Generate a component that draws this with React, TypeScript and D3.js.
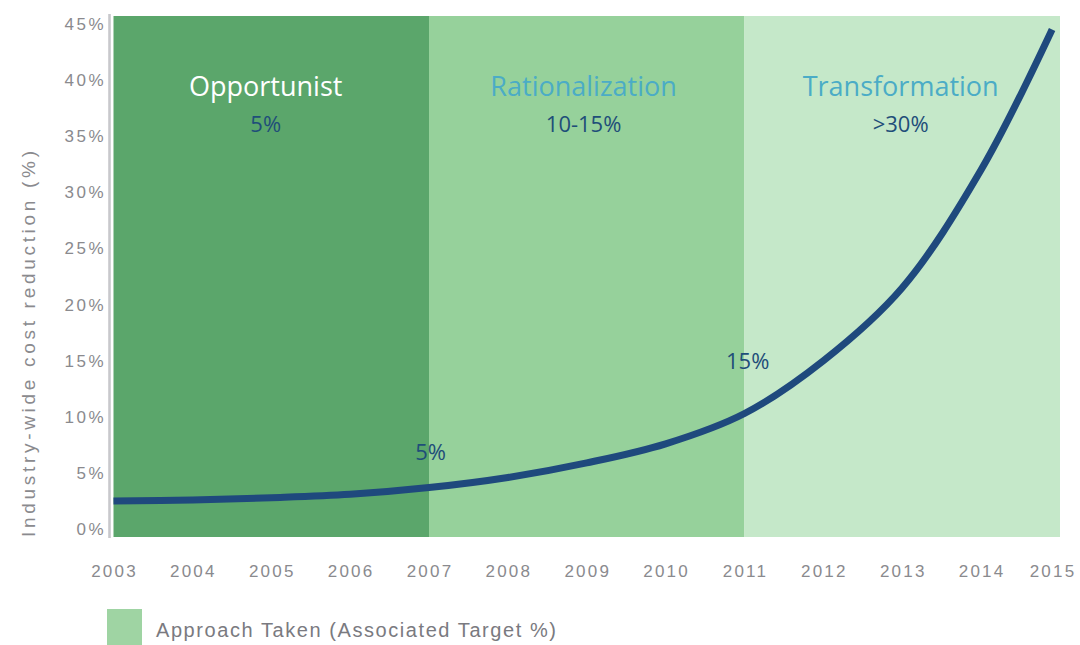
import React from "react";
import * as d3 from "d3";

const years = [2003, 2004, 2005, 2006, 2007, 2008, 2009, 2010, 2011, 2012, 2013, 2014, 2015];
const yTicks = [0, 5, 10, 15, 20, 25, 30, 35, 40, 45];
const curveYears = [2003, 2004, 2005, 2006, 2007, 2008, 2009, 2010, 2011, 2012, 2013, 2014, 2014.9];
const curveValues = [2.5, 2.6, 2.8, 3.1, 3.7, 4.6, 5.9, 7.6, 10.3, 15.0, 21.5, 32.0, 44.5];
const phaseNames = ["Opportunist", "Rationalization", "Transformation"];
const phaseTargets = ["5%", "10-15%", ">30%"];
const phaseStart = [2003, 2007, 2011];
const phaseEnd = [2007, 2011, 2015];
const phaseLabelYear = [2004.93, 2008.96, 2012.98];
const phaseFill = ["#5ba66b", "#96d19b", "#c5e8c9"];
const phaseTitleColor = ["#ffffff", "#4bacc6", "#4bacc6"];
const pointLabels = ["5%", "15%"];
const pointLabelYears = [2007.02, 2011.04];
const pointLabelValues = [6.2, 14.3];

export default function App() {
  const x = d3.scaleLinear().domain([2003, 2015]).range([113.5, 1060]);
  const y = d3.scaleLinear().domain([-0.7, 45.7]).range([537, 16]);
  const line = d3
    .line<number>()
    .x((_, i) => x(curveYears[i]))
    .y((d) => y(d))
    .curve(d3.curveCatmullRom.alpha(0.5));
  const font = "'Open Sans', sans-serif";
  const axisFont = "'Liberation Sans', Arial, sans-serif";
  return (
    <svg width={1080} height={645} style={{ position: "absolute", left: 0, top: 0, background: "#fff" }}>
      {phaseNames.map((n, i) => (
        <rect
          key={n}
          x={x(phaseStart[i])}
          y={y(45.7)}
          width={x(phaseEnd[i]) - x(phaseStart[i])}
          height={y(-0.7) - y(45.7)}
          fill={phaseFill[i]}
        />
      ))}
      <line x1={109.5} x2={109.5} y1={14} y2={538} stroke="#c8c8cc" strokeWidth={2.6} />
      {phaseNames.map((n, i) => {
        const cx = x(phaseLabelYear[i]);
        return (
          <g key={"t" + n} fontFamily={font} textAnchor="middle">
            <text x={cx} y={96} fontSize={27} fill={phaseTitleColor[i]}>
              {n}
            </text>
            <text x={cx} y={132} fontSize={22} fill="#1f4e79">
              {phaseTargets[i]}
            </text>
          </g>
        );
      })}
      <path d={line(curveValues) || ""} fill="none" stroke="#1f497d" strokeWidth={7} />
      {pointLabels.map((l, i) => (
        <text
          key={l}
          x={x(pointLabelYears[i])}
          y={y(pointLabelValues[i])}
          fontFamily={font}
          fontSize={22}
          fill="#1f4e79"
          textAnchor="middle"
        >
          {l}
        </text>
      ))}
      {yTicks.map((t) => (
        <text
          key={t}
          x={106}
          y={y(t) + 6}
          textAnchor="end"
          fontFamily={axisFont}
          fontSize={17}
          letterSpacing={2.5}
          fill="#8a8a8e"
        >
          {t + "%"}
        </text>
      ))}
      {years.map((yr) => (
        <text
          key={yr}
          x={Math.min(x(yr) + 1, 1053)}
          y={577}
          textAnchor="middle"
          fontFamily={axisFont}
          fontSize={17}
          letterSpacing={2.2}
          fill="#8a8a8e"
        >
          {yr}
        </text>
      ))}
      <text
        transform={`translate(35, 344) rotate(-90)`}
        textAnchor="middle"
        fontFamily={axisFont}
        fontSize={19}
        textLength={386}
        lengthAdjust="spacing"
        fill="#8a8a8e"
      >
        Industry-wide cost reduction (%)
      </text>
      <rect x={107} y={609} width={35} height={36} fill="#9fd4a3" />
      <text
        x={156}
        y={637}
        fontFamily={axisFont}
        fontSize={20}
        textLength={400}
        lengthAdjust="spacing"
        fill="#7a7a80"
      >
        Approach Taken (Associated Target %)
      </text>
    </svg>
  );
}
